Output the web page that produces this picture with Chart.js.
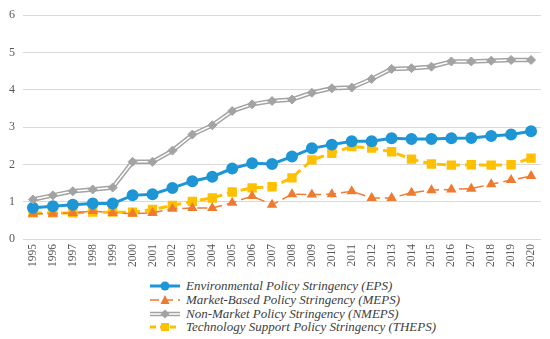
<!DOCTYPE html>
<html lang="en">
<head>
    <meta charset="UTF-8">
    <title>Environmental Policy Stringency</title>
    <script src="https://cdn.jsdelivr.net/npm/chart.js"></script>
    <style>
        body {
            margin: 0;
            background: #fff;
            font-family: "Times New Roman", "Liberation Serif", "DejaVu Serif", serif;
        }
        #wrap {
            position: relative;
            width: 550px;
            height: 339px;
        }
        #chartBox {
            position: absolute;
            left: 0;
            top: 0;
            width: 550px;
            height: 274px;
        }
        #legend {
            position: absolute;
            left: 150px;
            top: 279px;
        }
        .legend-item {
            display: flex;
            align-items: center;
            height: 13.8px;
            font-style: italic;
            font-size: 13px;
            color: #404040;
            white-space: nowrap;
        }
        .legend-item svg {
            margin-right: 4px;
        }
    </style>
</head>
<body>
<div id="wrap">
    <div id="chartBox"><canvas id="policyChart"></canvas></div>
    <div id="legend"></div>
</div>

<script>
    const years = ['1995', '1996', '1997', '1998', '1999', '2000', '2001', '2002', '2003', '2004', '2005', '2006', '2007',
        '2008', '2009', '2010', '2011', '2012', '2013', '2014', '2015', '2016', '2017', '2018', '2019', '2020'];
    const eps = [0.84, 0.88, 0.92, 0.95, 0.95, 1.17, 1.20, 1.37, 1.55, 1.67, 1.89, 2.03, 2.01,
        2.21, 2.43, 2.53, 2.62, 2.62, 2.70, 2.68, 2.68, 2.70, 2.71, 2.76, 2.80, 2.89];
    const meps = [0.68, 0.68, 0.70, 0.75, 0.70, 0.68, 0.70, 0.81, 0.83, 0.83, 0.97, 1.15, 0.92,
        1.20, 1.19, 1.20, 1.28, 1.10, 1.10, 1.24, 1.31, 1.33, 1.35, 1.47, 1.58, 1.69];
    const nmeps = [1.06, 1.17, 1.28, 1.33, 1.38, 2.07, 2.07, 2.37, 2.80, 3.05, 3.43, 3.61, 3.70,
        3.74, 3.92, 4.04, 4.06, 4.29, 4.56, 4.58, 4.62, 4.76, 4.76, 4.78, 4.80, 4.80];
    const theps = [0.70, 0.70, 0.70, 0.72, 0.72, 0.72, 0.79, 0.90, 1.01, 1.10, 1.26, 1.37, 1.40,
        1.64, 2.12, 2.30, 2.48, 2.44, 2.34, 2.14, 2.01, 1.98, 1.99, 1.98, 1.99, 2.17];
    const seriesNames = [
        'Environmental Policy Stringency (EPS)',
        'Market-Based Policy Stringency (MEPS)',
        'Non-Market Policy Stringency (NMEPS)',
        'Technology Support Policy Stringency (THEPS)'
    ];
    const yTicks = [0, 1, 2, 3, 4, 5, 6];

    const blue = '#1e96d6';
    const orange = '#ef7b30';
    const grey = '#a3a3a3';
    const yellow = '#ffc000';
    const serif = '"Times New Roman", "Liberation Serif", "DejaVu Serif", serif';

    const datasets = [
        {
            data: theps,
            borderColor: yellow,
            backgroundColor: yellow,
            borderWidth: 3,
            borderDash: [9, 5],
            pointStyle: 'rect',
            pointRadius: 4.5,
            pointHoverRadius: 4.5,
            order: 4
        },
        {
            data: meps,
            borderColor: orange,
            backgroundColor: orange,
            borderWidth: 1.5,
            borderDash: [10, 5],
            pointStyle: 'triangle',
            pointRadius: 4.5,
            pointHoverRadius: 4.5,
            order: 3
        },
        {
            data: eps,
            borderColor: blue,
            backgroundColor: blue,
            borderWidth: 3,
            pointStyle: 'circle',
            pointRadius: 4.5,
            pointHoverRadius: 4.5,
            order: 2
        },
        // non-market series: grey double line, then the diamonds on top
        {
            data: nmeps,
            borderColor: grey,
            borderWidth: 4.5,
            pointRadius: 0,
            order: 1.3
        },
        {
            data: nmeps,
            borderColor: '#ffffff',
            borderWidth: 1.5,
            pointRadius: 0,
            order: 1.2
        },
        {
            data: nmeps,
            showLine: false,
            borderColor: grey,
            backgroundColor: grey,
            pointStyle: 'rectRot',
            pointRadius: 4.5,
            pointHoverRadius: 4.5,
            order: 1.1
        }
    ];

    new Chart(document.getElementById('policyChart'), {
        type: 'line',
        data: { labels: years, datasets: datasets },
        options: {
            responsive: true,
            maintainAspectRatio: false,
            animation: false,
            layout: { padding: { left: 1, right: 7, top: 8, bottom: 2 } },
            plugins: {
                legend: { display: false },
                tooltip: { enabled: false }
            },
            scales: {
                x: {
                    offset: true,
                    grid: { display: false, drawTicks: false },
                    border: { display: false },
                    ticks: {
                        color: '#595959',
                        font: { family: serif, size: 11.5 },
                        minRotation: 90,
                        maxRotation: 90,
                        padding: 5
                    }
                },
                y: {
                    min: 0,
                    max: 6,
                    afterBuildTicks: axis => { axis.ticks = yTicks.map(v => ({ value: v })); },
                    grid: { color: '#d9d9d9', lineWidth: 1, drawTicks: false },
                    border: { display: false },
                    ticks: {
                        color: '#595959',
                        font: { family: serif, size: 12 },
                        padding: 8
                    }
                }
            }
        }
    });

    // legend: one entry per line, like the original
    const legendMarks = [
        '<line x1="0" y1="7" x2="30" y2="7" stroke="' + blue + '" stroke-width="3"/>' +
        '<circle cx="15" cy="7" r="4.5" fill="' + blue + '"/>',
        '<line x1="0" y1="7" x2="30" y2="7" stroke="' + orange + '" stroke-width="1.5" stroke-dasharray="9 5"/>' +
        '<polygon points="15,2 19.5,11 10.5,11" fill="' + orange + '"/>',
        '<line x1="0" y1="7" x2="30" y2="7" stroke="' + grey + '" stroke-width="4.5"/>' +
        '<line x1="0" y1="7" x2="30" y2="7" stroke="#fff" stroke-width="1.5"/>' +
        '<polygon points="15,2.5 19.5,7 15,11.5 10.5,7" fill="' + grey + '"/>',
        '<line x1="0" y1="7" x2="30" y2="7" stroke="' + yellow + '" stroke-width="3" stroke-dasharray="6 4"/>' +
        '<rect x="11" y="3" width="8" height="8" fill="' + yellow + '"/>'
    ];
    const legendBox = document.getElementById('legend');
    seriesNames.forEach((name, i) => {
        const item = document.createElement('div');
        item.className = 'legend-item';
        item.innerHTML = '<svg width="32" height="14">' + legendMarks[i] + '</svg><span>' + name + '</span>';
        legendBox.appendChild(item);
    });
</script>
</body>
</html>
